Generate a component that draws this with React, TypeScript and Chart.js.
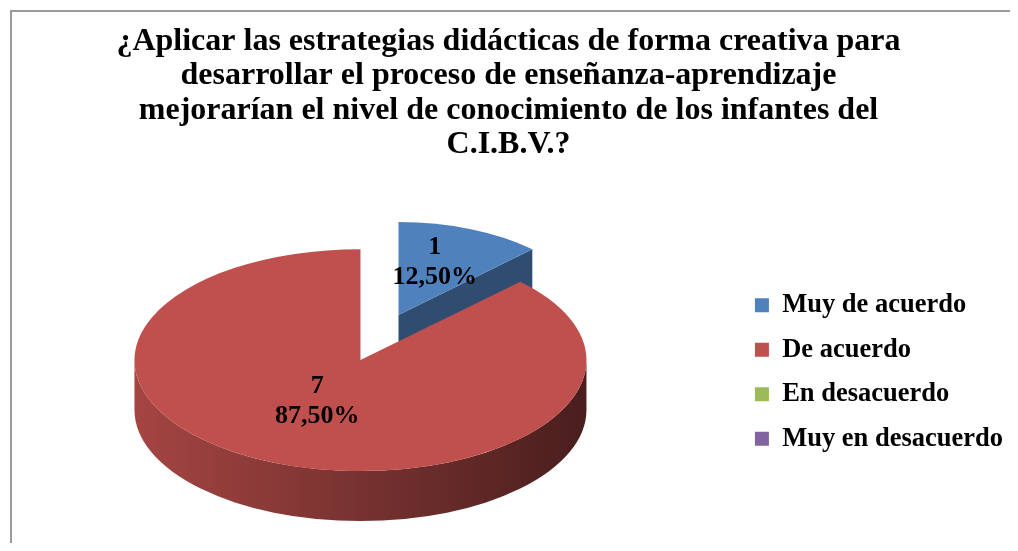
import React, { useEffect, useRef } from "react";
import { Chart, registerables } from "chart.js";

Chart.register(...registerables);

const TITLE_LINES = [
  "¿Aplicar las estrategias didácticas de forma creativa para",
  "desarrollar el proceso de enseñanza-aprendizaje",
  "mejorarían el nivel de conocimiento de los infantes del",
  "C.I.B.V.?",
];
const CATEGORIES = ["Muy de acuerdo", "De acuerdo", "En desacuerdo", "Muy en desacuerdo"];
const COUNTS = [1, 7, 0, 0];
const COLORS = ["#4F81BD", "#C0504D", "#9BBB59", "#8064A2"];
const EXPLODE = [0.44, 0, 0, 0];

const TILT = 0.491;
const DEPTH = 50;
const PERSPECTIVE = 0.4;
const PIE_SHIFT_X = -10;
const LABEL_RADIUS = 0.5;
const LABEL_LIFT = -10;
const SERIF = '"Liberation Serif", "Times New Roman", Times, serif';

function shade(hex: string, f: number): string {
  const n = parseInt(hex.slice(1), 16);
  const r = Math.round(((n >> 16) & 255) * f);
  const g = Math.round(((n >> 8) & 255) * f);
  const b = Math.round((n & 255) * f);
  return `rgb(${r},${g},${b})`;
}

function pctText(v: number, total: number): string {
  return ((v / total) * 100).toFixed(2).replace(".", ",") + "%";
}

const pie3d = {
  id: "pie3d",
  beforeDatasetsDraw(chart: any) {
    const ctx: CanvasRenderingContext2D = chart.ctx;
    const meta = chart.getDatasetMeta(0);
    const arcs = meta.data as any[];
    const total = COUNTS.reduce((a, b) => a + b, 0);
    const info = arcs.map((arc: any, i: number) => {
      const p = arc.getProps(["x", "y", "startAngle", "endAngle", "outerRadius", "circumference"], true);
      const mid = (p.startAngle + p.endAngle) / 2;
      const R0 = p.outerRadius;
      const ex = Math.cos(mid) * EXPLODE[i] * R0;
      const ey = Math.sin(mid) * EXPLODE[i] * R0;
      const k = 1 + (PERSPECTIVE * ey) / R0;
      const R = R0 * k;
      return {
        arc, i, p, mid, k, R,
        ry: R * TILT,
        depth: DEPTH * k,
        cx: p.x + PIE_SHIFT_X + ex,
        cy: p.y + ey * TILT,
      };
    });
    const visible = info.filter((o: any) => o.p.circumference > 0);
    const order = [...visible].sort(
      (a: any, b: any) => a.cy + Math.sin(a.mid) * a.ry - (b.cy + Math.sin(b.mid) * b.ry)
    );
    for (const o of order) {
      const { cx, cy, R, ry, p, i, depth } = o;
      const s = p.startAngle;
      const e = p.endAngle;
      ctx.save();
      const face = (a: number) => {
        ctx.beginPath();
        ctx.moveTo(cx, cy);
        ctx.lineTo(cx + R * Math.cos(a), cy + ry * Math.sin(a));
        ctx.lineTo(cx + R * Math.cos(a), cy + ry * Math.sin(a) + depth);
        ctx.lineTo(cx, cy + depth);
        ctx.closePath();
        ctx.fillStyle = shade(COLORS[i], 0.6);
        ctx.fill();
      };
      if (p.circumference < Math.PI * 2 - 1e-6) {
        if (Math.cos(s) < -1e-9) face(s);
        if (Math.cos(e) > 1e-9) face(e);
      }
      for (const kk of [-2 * Math.PI, 0, 2 * Math.PI]) {
        const a0 = Math.max(s, kk);
        const a1 = Math.min(e, kk + Math.PI);
        if (a1 > a0) {
          const g = ctx.createLinearGradient(cx - R, 0, cx + R, 0);
          g.addColorStop(0, shade(COLORS[i], 0.86));
          g.addColorStop(0.5, shade(COLORS[i], 0.62));
          g.addColorStop(1, shade(COLORS[i], 0.38));
          ctx.beginPath();
          ctx.ellipse(cx, cy, R, ry, 0, a0, a1);
          ctx.ellipse(cx, cy + depth, R, ry, 0, a1, a0, true);
          ctx.closePath();
          ctx.fillStyle = g;
          ctx.fill();
        }
      }
      ctx.restore();
    }
    for (const o of visible) {
      ctx.save();
      ctx.translate(o.cx, o.cy);
      ctx.scale(o.k, o.k * TILT);
      ctx.translate(-o.p.x, -o.p.y);
      o.arc.draw(ctx);
      ctx.restore();
    }
    ctx.save();
    ctx.fillStyle = "#000";
    ctx.font = `bold 26px ${SERIF}`;
    ctx.textAlign = "center";
    ctx.textBaseline = "middle";
    for (const o of visible) {
      const lx = o.cx + Math.cos(o.mid) * LABEL_RADIUS * o.R;
      const ly = o.cy + Math.sin(o.mid) * LABEL_RADIUS * o.ry + LABEL_LIFT;
      ctx.fillText(String(COUNTS[o.i]), lx, ly - 15);
      ctx.fillText(pctText(COUNTS[o.i], total), lx, ly + 15);
    }
    ctx.restore();
    return false;
  },
};

export default function App() {
  const ref = useRef<HTMLCanvasElement | null>(null);
  useEffect(() => {
    if (!ref.current) return;
    const chart = new Chart(ref.current, {
      type: "pie",
      data: {
        labels: CATEGORIES,
        datasets: [
          {
            data: COUNTS,
            backgroundColor: COLORS,
            borderWidth: 0,
          },
        ],
      },
      options: {
        responsive: false,
        animation: false,
        radius: 226,
        layout: { padding: { top: 14, bottom: 0, left: 4, right: 5 } },
        plugins: {
          title: {
            display: true,
            text: TITLE_LINES,
            color: "#000",
            font: { family: SERIF, size: 32, weight: "bold", lineHeight: 1.08 },
            padding: { top: 10, bottom: 7 },
          },
          legend: {
            position: "right",
            fullSize: false,
            title: { display: true, text: " ", padding: 0, font: { size: 24, lineHeight: 1 } },
            labels: {
              color: "#000",
              font: { family: SERIF, size: 26.5, weight: "bold" },
              boxWidth: 14,
              boxHeight: 14,
              padding: 18,
            },
          },
          tooltip: { enabled: false },
        },
      } as any,
      plugins: [pie3d as any],
    });
    return () => chart.destroy();
  }, []);
  return (
    <div style={{ margin: -8, position: "relative", width: 1018, height: 551, overflow: "hidden", background: "#fff" }}>
      <canvas ref={ref} width={1018} height={551} style={{ display: "block", width: 1018, height: 551 }} />
      <div
        style={{
          position: "absolute",
          left: 10,
          top: 10,
          width: 1100,
          height: 700,
          borderLeft: "2px solid #9a9a9a",
          borderTop: "2px solid #9a9a9a",
          pointerEvents: "none",
        }}
      />
    </div>
  );
}
